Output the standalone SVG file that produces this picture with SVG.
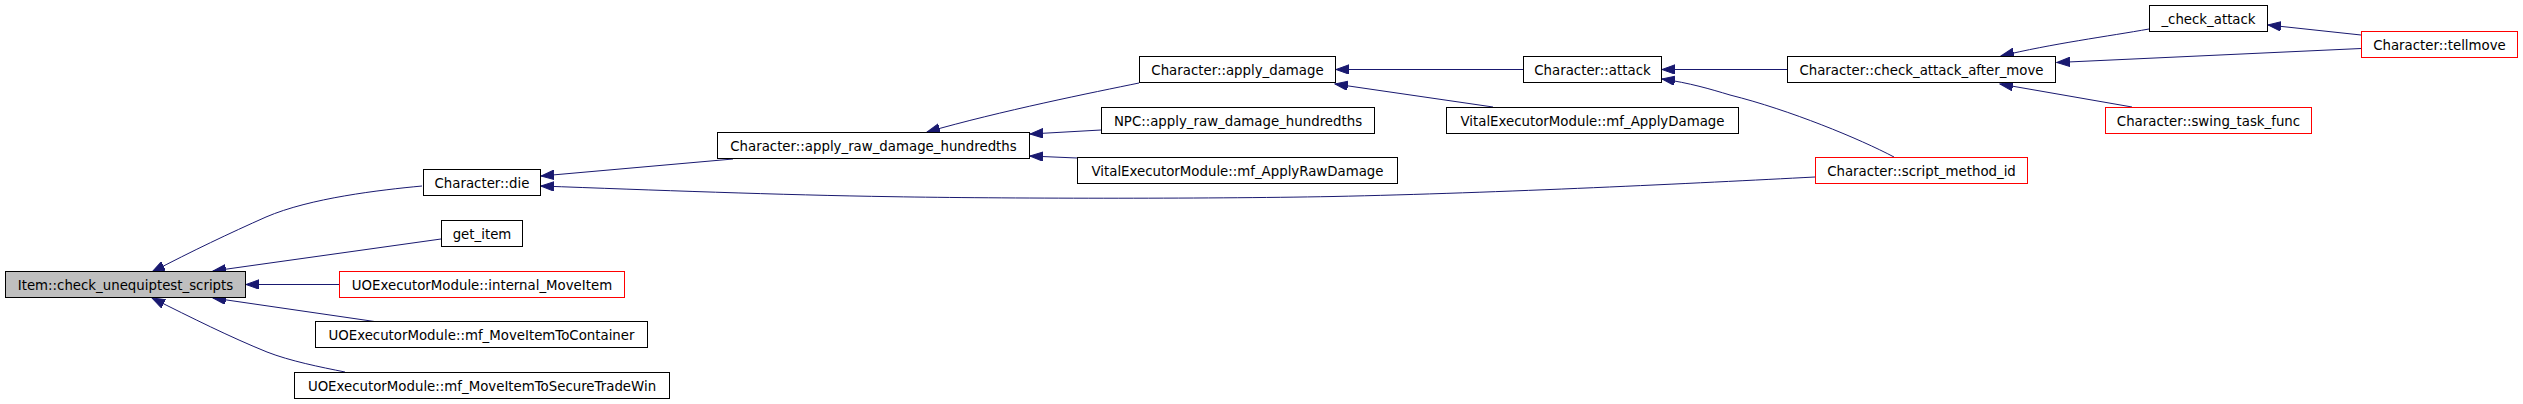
<svg xmlns="http://www.w3.org/2000/svg" width="2523" height="404" viewBox="0 0 2523 404">
<defs>
<marker id="ah" markerUnits="userSpaceOnUse" markerWidth="14" markerHeight="10" refX="13" refY="4.7" orient="auto">
<path d="M0,0 L13,4.7 L0,9.4 z" fill="#191970" stroke="#191970" stroke-width="1"/>
</marker>
<style>
.n rect{fill:#ffffff;stroke:#000000;stroke-width:1}
.n.red rect{stroke:#ff0000}
.n.cur rect{fill:#bfbfbf}
.n text{font-family:"DejaVu Sans",sans-serif;font-size:13.33px;fill:#000000;text-anchor:middle}
.e path{fill:none;stroke:#191970;stroke-width:1;marker-end:url(#ah)}
</style>
</defs>
<rect x="0" y="0" width="2523" height="404" fill="#ffffff"/>
<g id="edges" class="e">
<path d="M422,186 C380,190 310,198 266,217 C230,233 192,251 152,272"/>
<path d="M441,239 L213,271"/>
<path d="M339,284.5 L246,284.5"/>
<path d="M378,322 L213,298"/>
<path d="M345,372 C320,367 290,361 267,352 C230,337 192,318 152,298"/>
<path d="M733,159 L541,176"/>
<path d="M1815,177 C1700,183 1500,193 1333,196.5 C1200,199 1000,198.5 893,196.7 C780,195 650,190 541,186"/>
<path d="M1139,83 C1095,92 1000,111 927,132"/>
<path d="M1101,130 L1030,134"/>
<path d="M1077,158 L1030,156"/>
<path d="M1523,69.5 L1336,69.5"/>
<path d="M1493,107 L1335,84"/>
<path d="M1787,69.5 L1662,69.5"/>
<path d="M1894,157 C1860,139 1790,110 1730,95 C1710,89 1690,83 1662,79"/>
<path d="M2149,29 C2110,36 2050,44 2001,56"/>
<path d="M2361,48.5 L2057,62.5"/>
<path d="M2361,35 L2268,25"/>
<path d="M2132,107 L2000,84"/>
</g>
<g id="n_item" class="n cur"><rect x="5.5" y="271.5" width="240" height="26"/><text x="125.5" y="289.5">Item::check_unequiptest_scripts</text></g>
<g id="n_die" class="n"><rect x="423.5" y="169.5" width="117" height="26"/><text x="482" y="187.5">Character::die</text></g>
<g id="n_get_item" class="n"><rect x="441.5" y="220.5" width="81" height="26"/><text x="482" y="238.5">get_item</text></g>
<g id="n_internal_moveitem" class="n red"><rect x="339.5" y="271.5" width="285" height="26"/><text x="482" y="289.5">UOExecutorModule::internal_MoveItem</text></g>
<g id="n_mf_moveitemtocontainer" class="n"><rect x="315.5" y="321.5" width="332" height="26"/><text x="481.5" y="339.5">UOExecutorModule::mf_MoveItemToContainer</text></g>
<g id="n_mf_moveitemtosecuretradewin" class="n"><rect x="294.5" y="372.5" width="375" height="26"/><text x="482" y="390.5">UOExecutorModule::mf_MoveItemToSecureTradeWin</text></g>
<g id="n_apply_raw" class="n"><rect x="717.5" y="132.5" width="312" height="26"/><text x="873.5" y="150.5">Character::apply_raw_damage_hundredths</text></g>
<g id="n_apply_damage" class="n"><rect x="1139.5" y="56.5" width="196" height="26"/><text x="1237.5" y="74.5">Character::apply_damage</text></g>
<g id="n_npc_apply_raw" class="n"><rect x="1101.5" y="107.5" width="273" height="26"/><text x="1238" y="125.5">NPC::apply_raw_damage_hundredths</text></g>
<g id="n_mf_applyrawdamage" class="n"><rect x="1077.5" y="157.5" width="320" height="26"/><text x="1237.5" y="175.5">VitalExecutorModule::mf_ApplyRawDamage</text></g>
<g id="n_attack" class="n"><rect x="1523.5" y="56.5" width="138" height="26"/><text x="1592.5" y="74.5">Character::attack</text></g>
<g id="n_mf_applydamage" class="n"><rect x="1446.5" y="107.5" width="292" height="26"/><text x="1592.5" y="125.5">VitalExecutorModule::mf_ApplyDamage</text></g>
<g id="n_check_attack_after_move" class="n"><rect x="1787.5" y="56.5" width="268" height="26"/><text x="1921.5" y="74.5">Character::check_attack_after_move</text></g>
<g id="n_script_method_id" class="n red"><rect x="1815.5" y="157.5" width="212" height="26"/><text x="1921.5" y="175.5">Character::script_method_id</text></g>
<g id="n_check_attack" class="n"><rect x="2149.5" y="5.5" width="118" height="26"/><text x="2208.5" y="23.5">_check_attack</text></g>
<g id="n_swing_task_func" class="n red"><rect x="2105.5" y="107.5" width="206" height="26"/><text x="2208.5" y="125.5">Character::swing_task_func</text></g>
<g id="n_tellmove" class="n red"><rect x="2361.5" y="31.5" width="156" height="26"/><text x="2439.5" y="49.5">Character::tellmove</text></g>
</svg>
